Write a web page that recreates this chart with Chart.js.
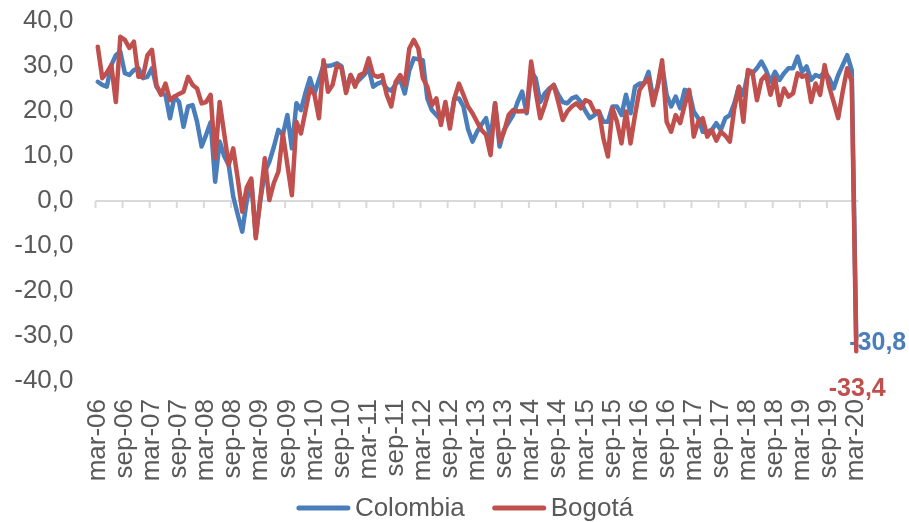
<!DOCTYPE html>
<html>
<head>
<meta charset="utf-8">
<script src="https://cdn.jsdelivr.net/npm/chart.js@4/dist/chart.umd.min.js"></script>
<style>
  body { margin: 0; background: #fff; }
  canvas { display: block; }
</style>
</head>
<body>
<canvas id="chart" width="909" height="522"></canvas>
<script>
// monthly series, mar-06 .. mar-20
const monthNames = ['ene', 'feb', 'mar', 'abr', 'may', 'jun', 'jul', 'ago', 'sep', 'oct', 'nov', 'dic'];
const firstYear = 2006, firstMonth = 2, lastYear = 2020, lastMonth = 2;

const colombia = [
  26.5, 25.8, 25.4, 30.2, 32.4, 33.2, 28.4, 28.0, 29.1, 29.5, 27.3, 27.6,
  29.5, 25.4, 23.9, 23.6, 18.4, 23.2, 22.0, 16.5, 21.0, 21.3, 17.6, 12.1,
  14.7, 17.5, 4.3, 13.2, 10.0, 8.0, 1.0, -3.0, -6.8, 0.0, 4.5, -7.6,
  0.0, 6.5, 8.7, 12.0, 15.8, 14.7, 19.1, 11.7, 21.7, 20.2, 24.0, 27.3,
  23.9, 27.0, 30.2, 30.0, 30.2, 30.6, 29.9, 24.5, 28.0, 26.0, 27.0, 28.0,
  29.5, 25.4, 26.1, 26.5, 25.0, 24.5, 26.0, 27.0, 23.9, 29.0, 31.7, 31.5,
  31.3, 22.8, 20.2, 19.1, 18.0, 21.0, 17.0, 22.8, 22.8, 21.0, 16.0, 13.2,
  15.4, 17.0, 18.4, 13.9, 21.7, 12.1, 15.8, 17.5, 19.1, 22.0, 24.3, 19.5,
  28.7, 27.3, 22.0, 23.9, 25.0, 25.8, 23.6, 22.0, 21.7, 22.8, 23.2, 22.0,
  20.0, 18.4, 19.1, 19.9, 17.6, 17.6, 21.0, 21.0, 19.1, 23.6, 19.5, 25.4,
  26.1, 26.1, 28.7, 22.8, 25.4, 30.2, 23.6, 21.0, 23.2, 20.6, 24.7, 24.3,
  19.9, 18.4, 15.4, 15.4, 15.8, 17.3, 15.8, 18.4, 19.1, 21.7, 25.4, 23.6,
  28.4, 28.4, 29.5, 31.0, 29.1, 26.5, 28.7, 26.9, 28.4, 29.5, 29.5, 32.1,
  28.7, 29.9, 26.9, 28.0, 27.6, 28.7, 27.3, 25.0, 28.0, 30.2, 32.4, 29.1,
  -30.8
];

const bogota = [
  34.3, 27.3, 28.5, 30.2, 22.0, 36.5, 35.8, 34.0, 35.4, 27.6, 27.6, 32.4,
  33.6, 25.8, 23.6, 26.1, 22.4, 23.2, 23.8, 24.3, 27.6, 25.8, 25.0, 21.7,
  22.0, 23.6, 9.5, 22.0, 15.0, 8.0, 11.7, 5.0, -2.4, 3.0, 5.0, -8.3,
  0.5, 9.5, 0.2, 4.0, 6.5, 15.0, 8.0, 1.3, 17.6, 15.0, 20.0, 25.0,
  23.6, 18.4, 31.3, 24.3, 25.8, 30.2, 29.5, 24.0, 28.0, 25.4, 28.0, 28.4,
  31.7, 28.0, 27.6, 28.0, 23.6, 21.0, 26.5, 28.0, 25.8, 33.9, 35.8, 33.9,
  27.3, 25.4, 21.3, 22.8, 16.9, 22.0, 16.1, 22.8, 26.1, 23.6, 21.0, 19.5,
  17.6, 15.8, 14.7, 10.2, 21.7, 13.2, 15.4, 19.1, 20.2, 19.9, 20.0, 19.9,
  31.0, 24.3, 18.4, 21.3, 24.7, 25.8, 22.0, 18.0, 19.9, 21.0, 21.7, 20.6,
  22.4, 22.0, 19.9, 19.9, 13.9, 9.9, 20.6, 17.6, 12.8, 19.9, 12.8, 19.1,
  24.7, 26.1, 27.3, 21.3, 25.4, 31.3, 17.6, 15.4, 19.1, 17.3, 21.3, 24.7,
  14.3, 17.6, 18.4, 14.3, 15.8, 13.4, 15.4, 14.5, 13.2, 20.6, 25.4, 17.6,
  29.1, 28.7, 22.4, 26.9, 28.0, 23.6, 27.3, 21.3, 25.0, 23.2, 23.9, 28.4,
  27.6, 28.0, 22.0, 26.1, 23.6, 30.2, 25.4, 22.0, 18.4, 24.3, 29.5, 26.5,
  -33.4
];

const yTicks = [-40, -30, -20, -10, 0, 10, 20, 30, 40];

const labels = [];
for (let y = firstYear; y <= lastYear; y++) {
  for (let m = 0; m < 12; m++) {
    if (y === firstYear && m < firstMonth) continue;
    if (y === lastYear && m > lastMonth) continue;
    labels.push(monthNames[m] + '-' + String(y).slice(2));
  }
}

const BLUE = '#4a7ebb';
const RED = '#c0504d';
const GREY_TEXT = '#595959';
const FONT = "'Liberation Sans', Arial, sans-serif";

const fmt = v => v.toFixed(1).replace('.', ',');

// zero line with small tick marks every 6 months
const axisLine = {
  id: 'axisLine',
  beforeDatasetsDraw(chart) {
    const { ctx, chartArea, scales: { x, y } } = chart;
    const y0 = y.getPixelForValue(0);
    const half = (x.getPixelForValue(1) - x.getPixelForValue(0)) / 2;
    ctx.save();
    ctx.strokeStyle = '#d9d9d9';
    ctx.lineWidth = 2;
    ctx.beginPath();
    ctx.moveTo(chartArea.left, y0);
    ctx.lineTo(chartArea.right, y0);
    for (let i = 0; i < labels.length; i += 6) {
      const px = x.getPixelForValue(i) - half;
      ctx.moveTo(px, y0);
      ctx.lineTo(px, y0 + 7);
    }
    ctx.stroke();
    ctx.restore();
  }
};

// value labels on the last point (lines are drawn over them)
const lastLabels = {
  id: 'lastLabels',
  beforeDatasetsDraw(chart) {
    const { ctx } = chart;
    ctx.save();
    ctx.font = 'bold 25px ' + FONT;
    ctx.textBaseline = 'middle';
    chart.data.datasets.forEach((ds, i) => {
      const pts = chart.getDatasetMeta(i).data;
      const p = pts[pts.length - 1];
      const v = ds.data[ds.data.length - 1];
      ctx.fillStyle = ds.borderColor;
      if (i === 0) {
        ctx.textAlign = 'left';
        ctx.fillText(fmt(v), p.x - 7, p.y + 4);
      } else {
        ctx.textAlign = 'center';
        ctx.fillText(fmt(v), p.x + 1, p.y + 38);
      }
    });
    ctx.restore();
  }
};

// legend below the axis labels
const bottomLegend = {
  id: 'bottomLegend',
  afterDraw(chart) {
    const { ctx, chartArea } = chart;
    const lineW = 53, gapText = 5, gapItem = 28;
    ctx.save();
    ctx.font = '26px ' + FONT;
    const items = chart.data.datasets.map(ds => ({
      text: ds.label, color: ds.borderColor, w: lineW + gapText + ctx.measureText(ds.label).width
    }));
    const total = items.reduce((a, it) => a + it.w, 0) + gapItem * (items.length - 1);
    let cx = (chartArea.left + chartArea.right) / 2 - 12 - total / 2;
    const cy = chart.height - 14;
    items.forEach(it => {
      ctx.strokeStyle = it.color;
      ctx.lineWidth = 5;
      ctx.lineCap = 'round';
      ctx.beginPath();
      ctx.moveTo(cx + 2, cy);
      ctx.lineTo(cx + lineW - 2, cy);
      ctx.stroke();
      ctx.fillStyle = GREY_TEXT;
      ctx.textAlign = 'left';
      ctx.textBaseline = 'middle';
      ctx.fillText(it.text, cx + lineW + gapText, cy + 1);
      cx += it.w + gapItem;
    });
    ctx.restore();
  }
};

new Chart(document.getElementById('chart'), {
  type: 'line',
  data: {
    labels: labels,
    datasets: [
      {
        label: 'Colombia',
        data: colombia,
        borderColor: BLUE,
        backgroundColor: BLUE,
        borderWidth: 4.5,
        pointRadius: 0,
        tension: 0,
        borderJoinStyle: 'round',
        borderCapStyle: 'round',
        order: 2
      },
      {
        label: 'Bogotá',
        data: bogota,
        borderColor: RED,
        backgroundColor: RED,
        borderWidth: 4.5,
        pointRadius: 0,
        tension: 0,
        borderJoinStyle: 'round',
        borderCapStyle: 'round',
        order: 1
      }
    ]
  },
  options: {
    responsive: false,
    animation: false,
    layout: { padding: { top: 21, right: 50.5, bottom: 30, left: 0 } },
    plugins: {
      legend: { display: false },
      tooltip: { enabled: false }
    },
    scales: {
      x: {
        offset: true,
        grid: { display: false, drawTicks: false },
        border: { display: false },
        ticks: {
          autoSkip: false,
          minRotation: 90,
          maxRotation: 90,
          padding: 18,
          color: GREY_TEXT,
          font: { family: FONT, size: 26 },
          callback: (v, i) => (i % 6 === 0 ? labels[i] : '')
        },
        afterFit: s => { s.height = 111; }
      },
      y: {
        min: -40,
        max: 40,
        afterBuildTicks: s => { s.ticks = yTicks.map(v => ({ value: v })); },
        // hidden grid, tick length only used as label offset
        grid: { display: false, drawTicks: true, tickLength: 18 },
        border: { display: false },
        ticks: {
          padding: 4,
          color: GREY_TEXT,
          font: { family: FONT, size: 26 },
          callback: v => fmt(v)
        },
        afterFit: s => { s.width = 95.5; }
      }
    }
  },
  plugins: [axisLine, lastLabels, bottomLegend]
});
</script>
</body>
</html>
